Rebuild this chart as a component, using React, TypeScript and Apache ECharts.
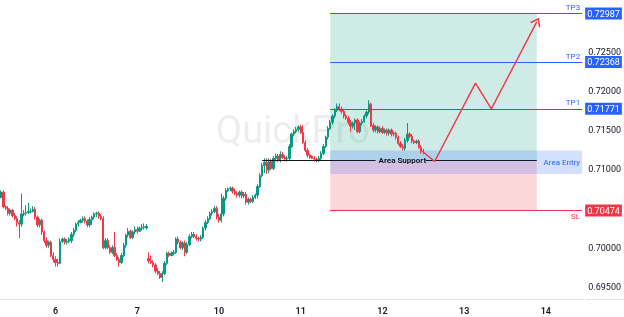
import React, { useEffect, useRef } from 'react';
import * as echarts from 'echarts';

// ---- time axis ----
const dayLabels = ['6', '7', '10', '11', '12', '13', '14'];
const firstDaySlot = 24;
const slotsPerDay = 36;
const totalSlots = 257;

// ---- candles (open, close, low, high) ----
const opens = [
  0.7064, 0.7071, 0.7052, 0.7050, 0.7044, 0.7048, 0.7041, 0.7037, 0.7032, 0.7030,
  0.7043, 0.7044, 0.7045, 0.7046, 0.7046, 0.7049, 0.7039, 0.7029, 0.7035, 0.7020,
  0.7009, 0.7003, 0.7007, 0.6990, 0.6985, 0.6981, 0.6980, 0.7008, 0.7011, 0.7007,
  0.7008, 0.7009, 0.7017, 0.7022, 0.7030, 0.7032, 0.7035, 0.7037, 0.7034, 0.7029,
  0.7036, 0.7039, 0.7043, 0.7044, 0.7040, 0.7037, 0.7000, 0.7009, 0.7000, 0.6994,
  0.7000, 0.6990, 0.6985, 0.6981, 0.6990, 0.7003, 0.7016, 0.7021, 0.7013, 0.7020,
  0.7023, 0.7021, 0.7025, 0.7026, 0.7025, 0.6986, 0.6983, 0.6981, 0.6978, 0.6970,
  0.6967, 0.6962, 0.6967, 0.6980, 0.6993, 0.6990, 0.6993, 0.6994, 0.7011, 0.7007,
  0.7000, 0.7006, 0.6994, 0.7004, 0.7014, 0.7017, 0.7014, 0.7012, 0.7011, 0.7013,
  0.7025, 0.7032, 0.7037, 0.7044, 0.7046, 0.7050, 0.7039, 0.7035, 0.7043, 0.7063,
  0.7073, 0.7075, 0.7076, 0.7072, 0.7069, 0.7067, 0.7071, 0.7066, 0.7068, 0.7058,
  0.7062, 0.7059, 0.7064, 0.7067, 0.7078, 0.7092, 0.7105, 0.7109, 0.7099, 0.7110,
  0.7101, 0.7114, 0.7117, 0.7111, 0.7119, 0.7115, 0.7113, 0.7114, 0.7129, 0.7145,
  0.7148, 0.7151, 0.7154, 0.7147, 0.7134, 0.7124, 0.7118, 0.7117, 0.7114, 0.7113,
  0.7111, 0.7114, 0.7120, 0.7129, 0.7141, 0.7152, 0.7160, 0.7168, 0.7175, 0.7180,
  0.7177, 0.7174, 0.7168, 0.7165, 0.7160, 0.7155, 0.7159, 0.7163, 0.7148, 0.7159,
  0.7161, 0.7168, 0.7173, 0.7183, 0.7156, 0.7150, 0.7154, 0.7148, 0.7152, 0.7147,
  0.7150, 0.7146, 0.7150, 0.7145, 0.7146, 0.7141, 0.7133, 0.7129, 0.7127, 0.7137,
  0.7145, 0.7142, 0.7136, 0.7134, 0.7136, 0.7128, 0.7123,
];
const closes = [
  0.7071, 0.7052, 0.7050, 0.7044, 0.7048, 0.7041, 0.7037, 0.7032, 0.7030, 0.7043,
  0.7044, 0.7045, 0.7046, 0.7046, 0.7049, 0.7039, 0.7029, 0.7035, 0.7020, 0.7009,
  0.7003, 0.7007, 0.6990, 0.6985, 0.6981, 0.6980, 0.7008, 0.7011, 0.7007, 0.7008,
  0.7011, 0.7017, 0.7022, 0.7030, 0.7032, 0.7035, 0.7037, 0.7034, 0.7029, 0.7036,
  0.7039, 0.7043, 0.7044, 0.7040, 0.7037, 0.7000, 0.7009, 0.7000, 0.6994, 0.7000,
  0.6990, 0.6985, 0.6981, 0.6990, 0.7003, 0.7016, 0.7021, 0.7013, 0.7020, 0.7023,
  0.7021, 0.7025, 0.7026, 0.7027, 0.7027, 0.6983, 0.6981, 0.6978, 0.6970, 0.6967,
  0.6962, 0.6967, 0.6980, 0.6993, 0.6990, 0.6993, 0.6994, 0.7011, 0.7007, 0.7000,
  0.7006, 0.6994, 0.7004, 0.7014, 0.7017, 0.7014, 0.7012, 0.7011, 0.7013, 0.7025,
  0.7032, 0.7037, 0.7044, 0.7046, 0.7050, 0.7039, 0.7035, 0.7043, 0.7063, 0.7073,
  0.7075, 0.7076, 0.7072, 0.7069, 0.7067, 0.7071, 0.7066, 0.7068, 0.7058, 0.7062,
  0.7059, 0.7064, 0.7067, 0.7078, 0.7092, 0.7105, 0.7109, 0.7099, 0.7110, 0.7101,
  0.7114, 0.7117, 0.7111, 0.7119, 0.7115, 0.7113, 0.7114, 0.7129, 0.7145, 0.7148,
  0.7151, 0.7154, 0.7147, 0.7134, 0.7124, 0.7118, 0.7115, 0.7114, 0.7113, 0.7111,
  0.7114, 0.7120, 0.7129, 0.7141, 0.7152, 0.7160, 0.7168, 0.7175, 0.7180, 0.7177,
  0.7174, 0.7168, 0.7165, 0.7160, 0.7155, 0.7159, 0.7163, 0.7148, 0.7159, 0.7161,
  0.7168, 0.7173, 0.7183, 0.7156, 0.7150, 0.7154, 0.7148, 0.7152, 0.7147, 0.7150,
  0.7146, 0.7150, 0.7145, 0.7146, 0.7141, 0.7133, 0.7129, 0.7127, 0.7137, 0.7145,
  0.7142, 0.7136, 0.7134, 0.7136, 0.7128, 0.7123, 0.7122,
];
const lows = [
  0.7063, 0.7050, 0.7048, 0.7041, 0.7041, 0.7039, 0.7035, 0.7027, 0.7012, 0.7027,
  0.7040, 0.7041, 0.7043, 0.7044, 0.7045, 0.7036, 0.7026, 0.7026, 0.7016, 0.7006,
  0.7000, 0.7000, 0.6988, 0.6981, 0.6976, 0.6976, 0.6979, 0.7006, 0.7004, 0.7004,
  0.7006, 0.7006, 0.7014, 0.7020, 0.7027, 0.7031, 0.7032, 0.7031, 0.7026, 0.7026,
  0.7029, 0.7036, 0.7039, 0.7037, 0.7035, 0.6998, 0.6998, 0.6998, 0.6992, 0.6992,
  0.6988, 0.6983, 0.6976, 0.6979, 0.6988, 0.7000, 0.7013, 0.7011, 0.7011, 0.7017,
  0.7018, 0.7020, 0.7022, 0.7023, 0.7023, 0.6980, 0.6979, 0.6975, 0.6967, 0.6965,
  0.6960, 0.6956, 0.6965, 0.6978, 0.6988, 0.6989, 0.6990, 0.6992, 0.7004, 0.6998,
  0.6997, 0.6989, 0.6992, 0.7002, 0.7012, 0.7012, 0.7009, 0.7008, 0.7008, 0.7011,
  0.7022, 0.7030, 0.7035, 0.7041, 0.7044, 0.7036, 0.7032, 0.7032, 0.7040, 0.7060,
  0.7071, 0.7072, 0.7069, 0.7067, 0.7064, 0.7064, 0.7063, 0.7063, 0.7055, 0.7055,
  0.7057, 0.7057, 0.7062, 0.7063, 0.7076, 0.7090, 0.7095, 0.7094, 0.7095, 0.7099,
  0.7099, 0.7110, 0.7109, 0.7109, 0.7113, 0.7110, 0.7110, 0.7111, 0.7127, 0.7142,
  0.7146, 0.7148, 0.7145, 0.7132, 0.7122, 0.7115, 0.7113, 0.7113, 0.7110, 0.7109,
  0.7109, 0.7111, 0.7118, 0.7127, 0.7138, 0.7150, 0.7157, 0.7165, 0.7173, 0.7174,
  0.7171, 0.7165, 0.7163, 0.7157, 0.7148, 0.7152, 0.7150, 0.7146, 0.7146, 0.7156,
  0.7159, 0.7165, 0.7170, 0.7154, 0.7147, 0.7147, 0.7146, 0.7146, 0.7145, 0.7145,
  0.7143, 0.7143, 0.7142, 0.7142, 0.7138, 0.7131, 0.7127, 0.7124, 0.7124, 0.7134,
  0.7140, 0.7133, 0.7132, 0.7132, 0.7126, 0.7120, 0.7119,
];
const highs = [
  0.7073, 0.7073, 0.7054, 0.7053, 0.7050, 0.7049, 0.7044, 0.7040, 0.7035, 0.7069,
  0.7048, 0.7054, 0.7057, 0.7050, 0.7053, 0.7052, 0.7041, 0.7037, 0.7037, 0.7022,
  0.7013, 0.7009, 0.7009, 0.6994, 0.6989, 0.6986, 0.7012, 0.7013, 0.7013, 0.7011,
  0.7013, 0.7020, 0.7025, 0.7032, 0.7035, 0.7037, 0.7040, 0.7040, 0.7036, 0.7039,
  0.7041, 0.7045, 0.7046, 0.7046, 0.7043, 0.7040, 0.7012, 0.7012, 0.7003, 0.7003,
  0.7020, 0.6993, 0.6988, 0.6993, 0.7006, 0.7018, 0.7025, 0.7023, 0.7022, 0.7027,
  0.7027, 0.7027, 0.7030, 0.7031, 0.7030, 0.6994, 0.6990, 0.6984, 0.6980, 0.6974,
  0.6970, 0.6970, 0.6983, 0.6995, 0.6995, 0.6995, 0.6997, 0.7013, 0.7014, 0.7009,
  0.7008, 0.7009, 0.7007, 0.7017, 0.7020, 0.7020, 0.7017, 0.7014, 0.7016, 0.7027,
  0.7035, 0.7040, 0.7046, 0.7049, 0.7053, 0.7053, 0.7043, 0.7069, 0.7066, 0.7076,
  0.7077, 0.7078, 0.7078, 0.7075, 0.7072, 0.7073, 0.7073, 0.7071, 0.7071, 0.7064,
  0.7064, 0.7067, 0.7069, 0.7081, 0.7095, 0.7108, 0.7114, 0.7114, 0.7114, 0.7113,
  0.7117, 0.7120, 0.7120, 0.7123, 0.7122, 0.7118, 0.7117, 0.7132, 0.7147, 0.7151,
  0.7154, 0.7156, 0.7157, 0.7156, 0.7137, 0.7127, 0.7120, 0.7118, 0.7117, 0.7115,
  0.7117, 0.7123, 0.7132, 0.7143, 0.7155, 0.7163, 0.7170, 0.7178, 0.7184, 0.7184,
  0.7180, 0.7177, 0.7170, 0.7168, 0.7163, 0.7161, 0.7165, 0.7165, 0.7161, 0.7164,
  0.7170, 0.7175, 0.7188, 0.7185, 0.7159, 0.7156, 0.7156, 0.7155, 0.7155, 0.7152,
  0.7152, 0.7152, 0.7152, 0.7148, 0.7148, 0.7143, 0.7136, 0.7132, 0.7140, 0.7159,
  0.7147, 0.7145, 0.7138, 0.7138, 0.7138, 0.7131, 0.7126,
];

// ---- trade setup ----
const tpNames = ['TP1', 'TP2', 'TP3'];
const tpValues = [0.71771, 0.72368, 0.72987];
const slValue = 0.70474;
const entryZone = [0.7094, 0.7124];
const supportLevel = 0.7111;
const setupStartSlot = 145;
const setupEndSlot = 236;
const supportStartSlot = 115;
const supportGap = [165, 187];

// projected path (slot, price)
const projSlots = [186, 191, 209, 216, 236];
const projPrices = [0.7122, 0.7110, 0.7210, 0.7177, 0.7288];

// ---- axis ----
const yMin = 0.69345;
const yMax = 0.7316;
const hiddenTicks = [0.705, 0.73];

const GREEN = '#089981';
const RED = '#f23645';
const BLUE = '#2962ff';
const INK = '#131722';

export default function App() {
  const ref = useRef<HTMLDivElement>(null);

  useEffect(() => {
    const chart = echarts.init(ref.current!, null, { renderer: 'svg' });

    const categories: string[] = [];
    for (let i = 0; i < totalSlots; i++) categories.push('s' + i);
    const dayStart: Record<number, string> = {};
    dayLabels.forEach((d, k) => {
      dayStart[firstDaySlot + k * slotsPerDay] = d;
    });
    const lastSlot = totalSlots - 1;

    const candles = opens.map((o, i) => [o, closes[i], lows[i], highs[i]]);

    const lines: any[] = [];
    tpNames.forEach((n, i) => {
      const v = tpValues[i];
      lines.push([
        {
          coord: [setupStartSlot, v],
          lineStyle: { color: BLUE, width: 1, type: 'solid' },
          label: {
            show: true, position: 'end', formatter: v.toFixed(5), color: '#fff',
            backgroundColor: BLUE, padding: [2, 2, 1, 2], fontSize: 9, distance: 3,
          },
        },
        { coord: [lastSlot, v] },
      ]);
      lines.push([
        {
          coord: [setupStartSlot, v],
          lineStyle: { color: BLUE, width: 1, type: 'solid' },
          label: { show: true, position: 'insideEndTop', formatter: n, color: BLUE, fontSize: 8, distance: 2 },
        },
        { coord: [lastSlot, v] },
      ]);
    });
    lines.push([
      {
        coord: [setupStartSlot, slValue],
        lineStyle: { color: RED, width: 1, type: 'solid' },
        label: {
          show: true, position: 'end', formatter: slValue.toFixed(5), color: '#fff',
          backgroundColor: RED, padding: [2, 2, 1, 2], fontSize: 9, distance: 3,
        },
      },
      { coord: [lastSlot, slValue] },
    ]);
    lines.push([
      {
        coord: [setupStartSlot, slValue],
        lineStyle: { color: RED, width: 1, type: 'solid' },
        label: { show: true, position: 'insideEndBottom', formatter: 'SL', color: RED, fontSize: 8, distance: 2 },
      },
      { coord: [lastSlot, slValue] },
    ]);
    lines.push([
      {
        coord: [supportStartSlot, supportLevel],
        lineStyle: { color: INK, width: 1, type: 'solid' },
        label: { show: true, position: 'end', formatter: 'Area Support', color: INK, fontSize: 8, fontWeight: 'bold', distance: 3 },
      },
      { coord: [supportGap[0], supportLevel] },
    ]);
    lines.push([
      { coord: [supportGap[1], supportLevel], lineStyle: { color: INK, width: 1, type: 'solid' }, label: { show: false } },
      { coord: [setupEndSlot, supportLevel] },
    ]);

    const projData: any[] = projSlots.map((s, i) => [s, projPrices[i]]);
    const last = projData.length - 1;
    projData[last] = {
      value: projData[last],
      symbol: 'path://M0,10L5,0L10,10',
      symbolSize: [10, 7],
      symbolRotate: -28,
      itemStyle: { color: 'rgba(0,0,0,0)', borderColor: RED, borderWidth: 1.4, opacity: 1 },
    };

    const option: any = {
      animation: false,
      textStyle: { fontFamily: 'Roboto, sans-serif' },
      grid: { left: 0, right: 38, top: 0, bottom: 18 },
      graphic: [
        {
          type: 'text', x: 216, y: 130, z: 0, silent: true,
          style: {
            text: 'QuickPro', fontSize: 38, fontFamily: 'Roboto', fill: 'rgba(0,0,0,0.07)',
            align: 'left', verticalAlign: 'middle',
          },
        },
        {
          type: 'line', silent: true,
          shape: { x1: 586, y1: 299.5, x2: 624, y2: 299.5 },
          style: { stroke: '#e0e3eb', lineWidth: 1 },
        },
      ],
      xAxis: {
        type: 'category',
        data: categories,
        boundaryGap: true,
        axisLine: { lineStyle: { color: '#e0e3eb' } },
        axisTick: { show: false },
        splitLine: { show: false },
        axisLabel: {
          interval: (idx: number) => dayStart[idx] !== undefined,
          formatter: (_v: string, idx: number) => dayStart[idx] || '',
          color: INK, fontSize: 9, fontWeight: 600, margin: 7,
        },
      },
      yAxis: {
        type: 'value',
        position: 'right',
        min: yMin,
        max: yMax,
        splitNumber: 7,
        axisLine: { show: false },
        axisTick: { show: false },
        splitLine: { show: false },
        axisLabel: {
          color: INK, fontSize: 9, margin: 5, showMinLabel: false, showMaxLabel: false,
          formatter: (v: number) => (hiddenTicks.some((h) => Math.abs(h - v) < 1e-7) ? '' : v.toFixed(5)),
        },
      },
      series: [
        {
          type: 'candlestick',
          data: candles,
          barWidth: '80%',
          silent: true,
          itemStyle: { color: GREEN, color0: RED, borderColor: GREEN, borderColor0: RED, borderWidth: 1 },
          markArea: {
            silent: true,
            label: { show: false },
            data: [
              [{ coord: [setupStartSlot, tpValues[2]], itemStyle: { color: 'rgba(8,153,129,0.2)' } }, { coord: [setupEndSlot, supportLevel] }],
              [{ coord: [setupStartSlot, supportLevel], itemStyle: { color: 'rgba(242,54,69,0.2)' } }, { coord: [setupEndSlot, slValue] }],
              [
                {
                  coord: [setupStartSlot, entryZone[1]],
                  itemStyle: { color: 'rgba(41,98,255,0.2)' },
                  label: { show: true, position: 'insideRight', formatter: 'Area Entry', color: BLUE, fontSize: 8, distance: 2 },
                },
                { coord: [lastSlot, entryZone[0]] },
              ],
            ],
          },
          markLine: { silent: true, symbol: ['none', 'none'], data: lines },
        },
        {
          type: 'line',
          data: projData,
          symbol: 'circle',
          symbolSize: 0,
          showSymbol: true,
          showAllSymbol: true,
          silent: true,
          z: 5,
          itemStyle: { color: RED },
          lineStyle: { color: RED, width: 1.4 },
        },
      ],
    };

    chart.setOption(option);
    return () => chart.dispose();
  }, []);

  return <div ref={ref} style={{ position: 'fixed', left: 0, top: 0, width: 624, height: 317 }} />;
}
